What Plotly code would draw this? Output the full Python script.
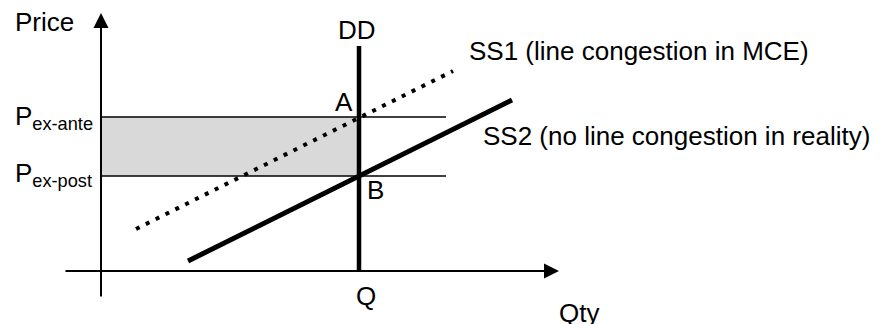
import plotly.graph_objects as go

# chart units: origin where the axes cross
q_star = 25.8        # quantity where DD stands
p_ex_ante = 15.4     # price with congestion (point A)
p_ex_post = 9.5      # price without congestion (point B)

# supply curves, start and end points
ss1_x = [3.5, 35.2]
ss1_y = [4.2, 20.0]
ss2_x = [8.7, 41.1]
ss2_y = [1.0, 17.1]

# demand curve (vertical)
dd_x = [q_star, q_star]
dd_y = [0, 22.5]

# horizontal price guides run from the axis to here
guide_end = 34.5

# axis extents (start, arrow tip)
x_axis = [-3.7, 45.8]
y_axis = [-2.7, 25.8]

FONT = dict(family="Liberation Sans, Arial, sans-serif", size=26, color="black")

fig = go.Figure()

# shaded price difference
fig.add_trace(go.Scatter(
    x=[0, q_star, q_star, 0, 0],
    y=[p_ex_post, p_ex_post, p_ex_ante, p_ex_ante, p_ex_post],
    fill="toself", fillcolor="#d9d9d9",
    mode="lines", line=dict(width=0), hoverinfo="skip"))

for p in [p_ex_ante, p_ex_post]:
    fig.add_trace(go.Scatter(x=[0, guide_end], y=[p, p], mode="lines",
                             line=dict(color="black", width=1.3)))

fig.add_trace(go.Scatter(x=ss1_x, y=ss1_y, mode="lines",
                         line=dict(color="black", width=4, dash="4px,7px")))
fig.add_trace(go.Scatter(x=ss2_x, y=ss2_y, mode="lines",
                         line=dict(color="black", width=5)))
fig.add_trace(go.Scatter(x=dd_x, y=dd_y, mode="lines",
                         line=dict(color="black", width=4.5)))

# axes with arrow heads
arrows = [
    dict(x=x_axis[1], y=0, ax=x_axis[0], ay=0),
    dict(x=0, y=y_axis[1], ax=0, ay=y_axis[0]),
]
for a in arrows:
    fig.add_annotation(x=a["x"], y=a["y"], ax=a["ax"], ay=a["ay"],
                       xref="x", yref="y", axref="x", ayref="y",
                       text="", showarrow=True, arrowhead=2,
                       arrowwidth=2, arrowsize=1.5, arrowcolor="black",
                       standoff=0, startstandoff=0)

labels = [
    ("Price", -8.8, 24.9, "left"),
    ("P<sub>ex-ante</sub>", -8.8, 15.4, "left"),
    ("P<sub>ex-post</sub>", -8.8, 9.7, "left"),
    ("DD", q_star - 0.2, 24.1, "center"),
    ("A", q_star - 1.5, 16.9, "center"),
    ("B", q_star + 1.6, 8.1, "center"),
    ("Q", q_star + 0.7, -2.5, "center"),
    ("Qty", 45.6, -4.2, "left"),
    ("SS1 (line congestion in MCE)", 36.6, 22.0, "left"),
    ("SS2 (no line congestion in reality)", 38.0, 13.5, "left"),
]
for text, x, y, anchor in labels:
    fig.add_annotation(x=x, y=y, text=text, showarrow=False,
                       xanchor=anchor, yanchor="middle", font=FONT)

fig.update_layout(
    width=880, height=324,
    margin=dict(l=0, r=0, t=0, b=0),
    plot_bgcolor="white", paper_bgcolor="white",
    showlegend=False,
    xaxis=dict(visible=False, range=[-10.1, 77.9], fixedrange=True),
    yaxis=dict(visible=False, range=[-5.3, 27.1], fixedrange=True),
)

fig.write_html("out.html", config={"displayModeBar": False},
               post_script="document.body.style.margin = '0';")
